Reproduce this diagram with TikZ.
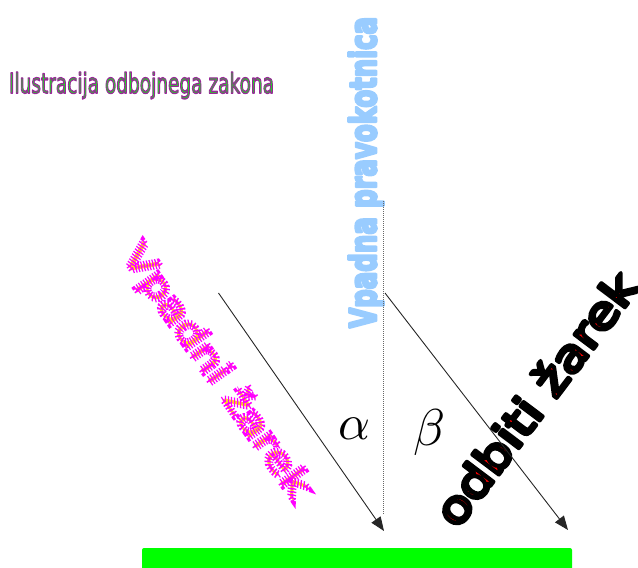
\documentclass[tikz,border=0pt]{standalone}
\usepackage{fontspec}
\setmainfont{DejaVu Sans}
\usetikzlibrary{arrows.meta}
\newcommand\pdflit[1]{\special{pdf:literal direct #1}}
\definecolor{lightblue}{HTML}{99CCFF}
\definecolor{barGreen}{HTML}{00FF00}
\definecolor{titleGreen}{HTML}{11EE11}
\tikzset{
  label text/.style={inner sep=0pt, outer sep=0pt},
  ray/.style={draw=black!85, line width=0.9pt, -{Triangle[length=14pt,width=11pt]}},
  normal line/.style={draw=black!60, line width=0.8pt, dash pattern=on 1pt off 1pt},
  mirror/.style={fill=barGreen, draw=none, rounded corners=2pt, inner sep=0pt},
}
\begin{document}
\begin{tikzpicture}[x=1pt,y=-1pt]
\useasboundingbox (0,0) rectangle (638,568);
\clip (0,0) rectangle (638,568);

% mirror
\node[mirror, minimum width=430pt, minimum height=32pt] (mirror) at (357,564) {};

% title
\node[label text, text=titleGreen] (title) at (141.5,85.5)
  {\resizebox*{265pt}{27pt}{\pdflit{0.6 0.15 0.6 RG 2 Tr 1.3 w 1 j}\fontsize{28}{30}\selectfont Ilustracija odbojnega zakona\pdflit{0 Tr}}};

% normal label
\node[label text, rotate=90, text=lightblue] (normlabel) at (366,172.5)
  {\resizebox*{311pt}{35pt}{\pdflit{2 Tr 3 w 1 j}\bfseries\fontsize{38}{40}\selectfont Vpadna pravokotnica\pdflit{0 Tr}}};

% incident ray label
\node[label text, rotate=-55, text=yellow] (inlabel) at (216,372)
  {\resizebox*{300pt}{37pt}{\pdflit{1 0 1 RG 2 Tr 5.5 w [1.3 1.7] 0 d}\fontsize{40}{44}\selectfont Vpadni žarek\pdflit{0 Tr [] 0 d}}};

% reflected ray label
\node[label text, rotate=53, text=red] (outlabel) at (535,398)
  {\resizebox*{304pt}{36pt}{\pdflit{0 0 0 RG 2 Tr 3.8 w 1 j 1 J}\fontsize{45}{50}\selectfont odbiti žarek\pdflit{0 Tr}}};

% angles
\node[label text] (alpha) at (354,428.5) {\resizebox{32pt}{!}{$\alpha$}};
\node[label text] (beta) at (429,432.5) {\resizebox{32pt}{!}{$\beta$}};

% rays and normal
\coordinate (inStart) at (218.5,293);
\coordinate (hit) at (384,531);
\coordinate (outStart) at (385,293);
\coordinate (outEnd) at (568,530);
\coordinate (normTop) at (383,201);
\coordinate (normBot) at (383,514);
\draw[normal line] (normTop) -- (normBot);
\draw[ray] (inStart) -- (hit);
\draw[ray] (outStart) -- (outEnd);
\end{tikzpicture}
\end{document}
